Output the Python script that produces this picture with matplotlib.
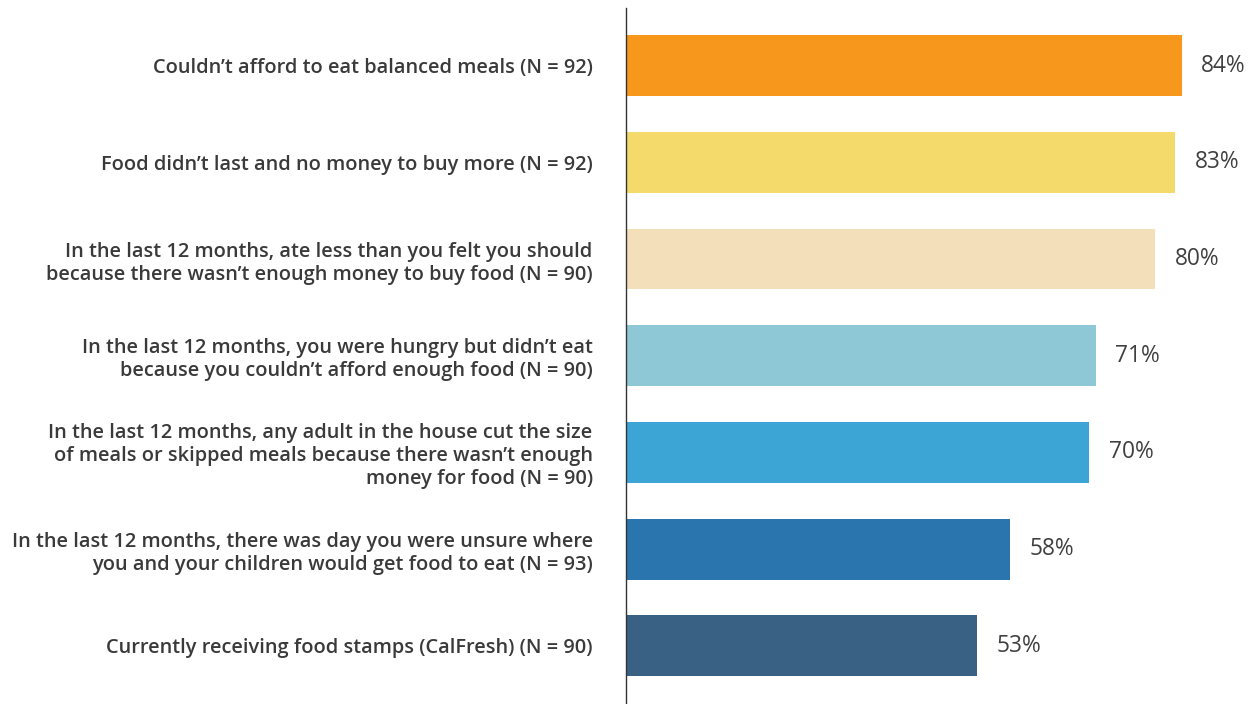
import matplotlib
matplotlib.use("Agg")
import matplotlib.pyplot as plt

labels = [
    "Couldn\u2019t afford to eat balanced meals (N = 92)",
    "Food didn\u2019t last and no money to buy more (N = 92)",
    "In the last 12 months, ate less than you felt you should\nbecause there wasn\u2019t enough money to buy food (N = 90)",
    "In the last 12 months, you were hungry but didn\u2019t eat\nbecause you couldn\u2019t afford enough food (N = 90)",
    "In the last 12 months, any adult in the house cut the size\nof meals or skipped meals because there wasn\u2019t enough\nmoney for food (N = 90)",
    "In the last 12 months, there was day you were unsure where\nyou and your children would get food to eat (N = 93)",
    "Currently receiving food stamps (CalFresh) (N = 90)",
]
values = [84, 83, 80, 71, 70, 58, 53]
colors = ["#F7981D", "#F4D96B", "#F3DFB9", "#8EC8D6", "#3DA5D5", "#2A75AE", "#386184"]

plt.rcParams["font.family"] = ["Open Sans", "DejaVu Sans"]

fig = plt.figure(figsize=(12.56, 7.04), dpi=100)
ax = fig.add_axes([626 / 1256, 0, 630 / 1256, 1 - 8 / 704])

pos = list(range(len(values)))
ax.barh(pos, values, height=0.63, color=colors)

for y, v in zip(pos, values):
    ax.annotate(f"{v}%", xy=(v, y), xytext=(14, 0), textcoords="offset points",
                ha="left", va="center", fontsize=16.4, color="#404040")

ax.set_xlim(0, 95.2)
ax.set_ylim(6.6, -0.595)
ax.set_yticks(pos)
ax.set_yticklabels(labels, fontsize=14.4, fontweight="semibold", color="#3a3a3a",
                   linespacing=1.2)
ax.tick_params(axis="y", length=0, pad=24)
ax.set_xticks([])
for s in ["top", "right", "bottom"]:
    ax.spines[s].set_visible(False)
ax.spines["left"].set_color("#333333")
ax.spines["left"].set_linewidth(1.0)

fig.savefig("out.png", dpi=100, facecolor="white")
